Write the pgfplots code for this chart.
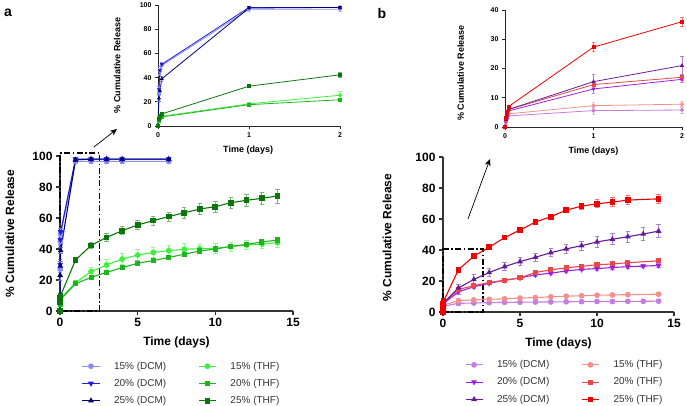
\documentclass[border=0pt]{standalone}
\usepackage{fontspec}
\setmainfont{Liberation Sans}
\usepackage{pgfplots}
\pgfplotsset{compat=1.18}
\usepackage{pgfplotstable}
\usetikzlibrary{arrows.meta}

\definecolor{aDa}{HTML}{8C8CF0}
\definecolor{aDb}{HTML}{1E1EE0}
\definecolor{aDc}{HTML}{00007A}
\definecolor{aTa}{HTML}{3CF03C}
\definecolor{aTb}{HTML}{1EB41E}
\definecolor{aTc}{HTML}{0B760B}
\definecolor{bDa}{HTML}{C47DE0}
\definecolor{bDb}{HTML}{A01EE0}
\definecolor{bDc}{HTML}{661A99}
\definecolor{bTa}{HTML}{F4908C}
\definecolor{bTb}{HTML}{E84848}
\definecolor{bTc}{HTML}{F00000}

% ---- panel a data ----
\pgfplotstableread{
t y e
0 0 0
0.0104 27 2
0.0208 45 3
0.0417 50 2
1 96.5 1.5
2 96.5 1.5
3 96.5 1.5
4 96.5 1.5
7 96.5 1.5
}\tADa
\pgfplotstableread{
t y e
0 0 0
0.0104 30 3
0.0208 46 3
0.0417 51 2
1 98 1
2 98 1
3 98 1
4 98 1
7 98 1
}\tADb
\pgfplotstableread{
t y e
0 0 0
0.0104 23 3
0.0208 29 3
0.0417 39 2
1 97.5 1
2 98 1
3 98 1
4 98 1
7 98 1
}\tADc
\pgfplotstableread{
t y e
0 0 0
0.0104 5 1
0.0208 7 1
0.0417 8 1
1 18.3 1.5
2 25.4 3
3 29.7 3.5
4 33.5 3.5
5 36.1 3.5
6 37.8 3.5
7 38.9 3.5
8 39.8 3.5
9 40.2 3
10 40.4 3
11 41.5 3
12 42.6 3
13 43.2 3
14 44.1 3
}\tATa
\pgfplotstableread{
t y e
0 0 0
0.0104 4 1
0.0208 6.5 1
0.0417 7.5 1
1 17.6 1
2 21.7 1.5
3 24.9 1.5
4 28 1.5
5 30.8 1.5
6 32.5 1.5
7 34.6 1.5
8 36.6 1.5
9 38.7 1.5
10 40 1.5
11 41.7 1.5
12 43 1.5
13 44.5 1.5
14 45.8 1.5
}\tATb
\pgfplotstableread{
t y e
0 0 0
0.0104 6 1
0.0208 8.5 1
0.0417 10 1
1 32.9 1
2 42.3 2
3 47.5 2.5
4 51.8 2.5
5 55.5 3
6 58.3 3
7 60.9 3
8 63.4 3.5
9 65.8 3.5
10 67.3 3.5
11 69.9 3.5
12 71.4 4
13 72.7 4
14 74.2 4.5
}\tATc

% ---- panel b data ----
\pgfplotstableread{
t y e
0 0 0
0.0104 1.5 0.5
0.0208 2.5 0.5
0.0417 3.8 0.8
1 5.6 1.2
2 5.8 1.2
3 6 1
4 6.2 1
5 6.3 1
6 6.4 1
7 6.5 1
8 6.6 1
9 6.7 1
10 6.8 1
11 6.8 1
12 6.9 1
13 6.9 1
14 7 1
}\tBDa
\pgfplotstableread{
t y e
0 0 0
0.0104 2 0.5
0.0208 3 0.5
0.0417 5.5 0.8
1 13 1.5
2 16.3 1
3 18.5 1
4 20.5 1
5 22 1
6 24 1
7 25 1
8 26.5 1
9 27.5 1
10 28 1
11 28.7 1
12 29.2 1
13 29.6 1
14 30 1
}\tBDb
\pgfplotstableread{
t y e
0 0 0
0.0104 2.5 0.5
0.0208 4 0.5
0.0417 6 1
1 15.5 2.5
2 21 3
3 25.5 2.5
4 29.3 2.5
5 32.5 2.5
6 35.3 2.5
7 38.3 2.5
8 40.7 3
9 42.8 3
10 45.2 3.5
11 46.9 3.5
12 48.6 3.5
13 50.3 4
14 52.2 4
}\tBDc
\pgfplotstableread{
t y e
0 0 0
0.0104 2 0.5
0.0208 3 0.5
0.0417 4.5 0.5
1 7.3 1
2 7.8 1
3 8.2 1
4 8.5 1
5 9 1
6 9.3 1
7 9.8 1
8 10.2 1
9 10.5 1
10 10.8 1
11 11 1
12 11.2 1
14 11.5 1
}\tBTa
\pgfplotstableread{
t y e
0 0 0
0.0104 2.5 0.5
0.0208 4 0.5
0.0417 6 0.5
1 14.5 1
2 17 1
3 19 1
4 20.5 1
5 22 1
6 25.5 1
7 27.2 1
8 28.5 1
9 29.5 1
10 30.5 1
11 31 1
12 31.8 1
14 33 1
}\tBTb
\pgfplotstableread{
t y e
0 0 0
0.0104 3 0.5
0.0208 5 0.5
0.0417 7 0.5
1 27.3 1.5
2 36 1.5
3 41.8 1.5
4 48 1.5
5 52.9 1.5
6 58 1
7 61.5 1
8 65.7 1.5
9 68.3 2
10 69.8 2.5
11 70.9 3
12 72.2 3
14 73 3
}\tBTc

\pgfplotsset{
 every axis/.append style={/pgf/number format/assume math mode=true},
 mainax/.style={scale only axis, axis lines=left,
   axis line style={-, line width=1.6pt, black!80},
   tick style={line width=1.3pt, black!80},
   tick align=outside, major tick length=4pt,
   xmin=0, xmax=15, ymin=0, ymax=100,
   xtick={0,5,10,15}, ytick={0,20,40,60,80,100},
   tick label style={font=\bfseries\fontsize{12}{12}\selectfont},
   label style={font=\bfseries\fontsize{12}{12}\selectfont},
   xlabel={Time (days)}, ylabel={\% Cumulative Release},
   clip=false, legend columns=2, legend cell align=left,
   legend style={draw=none, fill=none, inner sep=0pt, outer sep=0pt,
     font=\fontsize{10}{12}\selectfont, text=black!80, row sep=4.5pt,
     /tikz/every odd column/.append style={column sep=12pt},
     /tikz/every even column/.append style={column sep=30pt}}},
 inax/.style={scale only axis, axis lines=left,
   axis line style={-, line width=0.9pt, black!85},
   tick style={line width=0.8pt, black!85},
   tick align=outside, major tick length=3pt,
   tick label style={font=\bfseries\fontsize{7}{7}\selectfont},
   label style={font=\bfseries\fontsize{9}{9}\selectfont},
   xlabel={Time (days)}, ylabel={\% Cumulative Release},
   clip=false, xmin=0, xmax=2, xtick={0,1,2},
   restrict x to domain=0:2},
 serm/.style={color=#1, line width=1.1pt, mark size=2.3pt,
   error bars/y dir=both, error bars/y explicit,
   error bars/error bar style={color=#1!55!white, line width=0.9pt},
   error bars/error mark options={rotate=90, mark size=2.2pt, color=#1!55!white, line width=0.9pt}},
 seri/.style={color=#1, line width=0.8pt, mark size=1.6pt,
   error bars/y dir=both, error bars/y explicit,
   error bars/error bar style={color=#1!55!white, line width=0.6pt},
   error bars/error mark options={rotate=90, mark size=1.6pt, color=#1!55!white, line width=0.6pt}},
}

\begin{document}
\begin{tikzpicture}[x=1pt,y=1pt]
\useasboundingbox (0,0) rectangle (687,406);

% ===== panel a main =====
\begin{axis}[mainax, at={(60pt,95pt)}, anchor=south west, width=233pt, height=155pt,
  xlabel style={at={(axis description cs:0.5,-0.2)}, anchor=center},
  ylabel style={at={(axis description cs:-0.215,0.5)}, anchor=center},
  legend style={at={(axis description cs:0.094,-0.315)}, anchor=north west}]
\draw[line width=1.6pt, dash pattern=on 6pt off 2.5pt on 1.5pt off 2.5pt] (axis cs:0,0) rectangle (axis cs:2.55,102);
\addplot[serm=aDa, mark=*] table[x=t,y=y,y error=e]{\tADa}; \addlegendentry{15\% (DCM)}
\addplot[serm=aTa, mark=*] table[x=t,y=y,y error=e]{\tATa}; \addlegendentry{15\% (THF)}
\addplot[serm=aDb, mark=triangle*, mark options={rotate=180}] table[x=t,y=y,y error=e]{\tADb}; \addlegendentry{20\% (DCM)}
\addplot[serm=aTb, mark=square*, mark size=2pt] table[x=t,y=y,y error=e]{\tATb}; \addlegendentry{20\% (THF)}
\addplot[serm=aDc, mark=triangle*] table[x=t,y=y,y error=e]{\tADc}; \addlegendentry{25\% (DCM)}
\addplot[serm=aTc, mark=square*] table[x=t,y=y,y error=e]{\tATc}; \addlegendentry{25\% (THF)}
\end{axis}

% ===== panel a inset =====
\begin{axis}[inax, at={(158pt,280pt)}, anchor=south west, width=182pt, height=121pt,
  ymin=0, ymax=100, ytick={0,20,40,60,80,100},
  xlabel style={at={(axis description cs:0.495,-0.2)}, anchor=center},
  ylabel style={at={(axis description cs:-0.225,0.5)}, anchor=center}]
\addplot[seri=aDa, mark=*] table[x=t,y=y,y error=e]{\tADa};
\addplot[seri=aTa, mark=*] table[x=t,y=y,y error=e]{\tATa};
\addplot[seri=aDb, mark=triangle*, mark options={rotate=180}] table[x=t,y=y,y error=e]{\tADb};
\addplot[seri=aTb, mark=square*, mark size=1.4pt] table[x=t,y=y,y error=e]{\tATb};
\addplot[seri=aDc, mark=triangle*] table[x=t,y=y,y error=e]{\tADc};
\addplot[seri=aTc, mark=square*] table[x=t,y=y,y error=e]{\tATc};
\end{axis}

% ===== panel b main =====
\begin{axis}[mainax, at={(443pt,94pt)}, anchor=south west, width=231pt, height=155pt,
  xlabel style={at={(axis description cs:0.5,-0.2)}, anchor=center},
  ylabel style={at={(axis description cs:-0.242,0.48)}, anchor=center},
  legend style={at={(axis description cs:0.095,-0.3)}, anchor=north west}]
\draw[line width=1.6pt, dash pattern=on 6pt off 2.5pt on 1.5pt off 2.5pt] (axis cs:0,0) rectangle (axis cs:2.6,40.6);
\addplot[serm=bDa, mark=*] table[x=t,y=y,y error=e]{\tBDa}; \addlegendentry{15\% (DCM)}
\addplot[serm=bTa, mark=*] table[x=t,y=y,y error=e]{\tBTa}; \addlegendentry{15\% (THF)}
\addplot[serm=bDb, mark=triangle*, mark options={rotate=180}] table[x=t,y=y,y error=e]{\tBDb}; \addlegendentry{20\% (DCM)}
\addplot[serm=bTb, mark=square*, mark size=2pt] table[x=t,y=y,y error=e]{\tBTb}; \addlegendentry{20\% (THF)}
\addplot[serm=bDc, mark=triangle*] table[x=t,y=y,y error=e]{\tBDc}; \addlegendentry{25\% (DCM)}
\addplot[serm=bTc, mark=square*] table[x=t,y=y,y error=e]{\tBTc}; \addlegendentry{25\% (THF)}
\end{axis}

% ===== panel b inset =====
\begin{axis}[inax, at={(505pt,279pt)}, anchor=south west, width=177pt, height=117pt,
  ymin=0, ymax=40, ytick={0,10,20,30,40},
  xlabel style={at={(axis description cs:0.5,-0.21)}, anchor=center},
  ylabel style={at={(axis description cs:-0.25,0.46)}, anchor=center}]
\addplot[seri=bDa, mark=*] table[x=t,y=y,y error=e]{\tBDa};
\addplot[seri=bTa, mark=*] table[x=t,y=y,y error=e]{\tBTa};
\addplot[seri=bDb, mark=triangle*, mark options={rotate=180}] table[x=t,y=y,y error=e]{\tBDb};
\addplot[seri=bTb, mark=square*, mark size=1.4pt] table[x=t,y=y,y error=e]{\tBTb};
\addplot[seri=bDc, mark=triangle*] table[x=t,y=y,y error=e]{\tBDc};
\addplot[seri=bTc, mark=square*] table[x=t,y=y,y error=e]{\tBTc};
\end{axis}

% arrows and panel letters
\draw[-{Stealth[length=7pt,width=6pt]}, line width=0.7pt] (94,259) -- (117,277);
\draw[-{Stealth[length=7pt,width=6pt]}, line width=0.7pt] (468,187) -- (490,247);
\node[font=\bfseries\fontsize{14}{14}\selectfont] at (8,393) {a};
\node[font=\bfseries\fontsize{14}{14}\selectfont] at (382,392) {b};
\end{tikzpicture}
\end{document}
